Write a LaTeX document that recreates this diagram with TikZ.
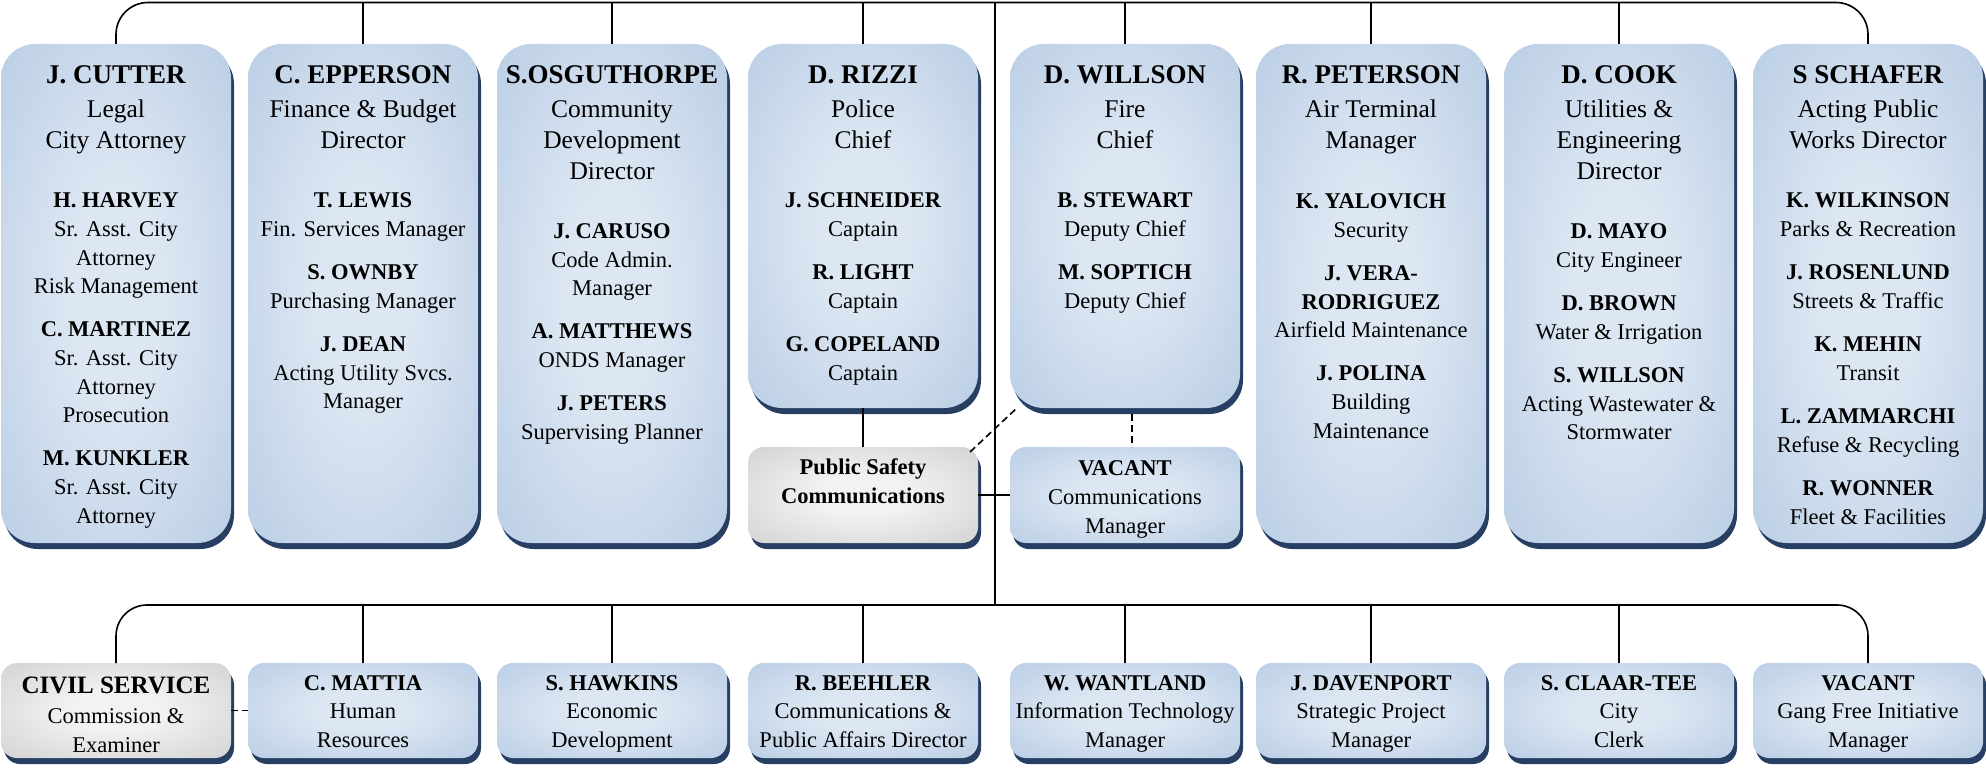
\documentclass[tikz,border=0pt]{standalone}
\usepackage{fontspec}
\setmainfont{Liberation Serif}
\usetikzlibrary{shadows,calc}
\definecolor{boxin}{HTML}{DDE7F3}
\definecolor{boxout}{HTML}{B8CCE4}
\definecolor{grayin}{HTML}{F2F2F2}
\definecolor{grayout}{HTML}{D0D0D0}
\definecolor{shadowc}{HTML}{263F62}
\pgfdeclareradialshading{blueshade}{\pgfpoint{0bp}{0bp}}{color(0bp)=(boxin); color(10bp)=(boxin); color(38bp)=(boxout); color(50bp)=(boxout)}
\pgfdeclareradialshading{grayshade}{\pgfpoint{0bp}{0bp}}{color(0bp)=(grayin); color(10bp)=(grayin); color(38bp)=(grayout); color(50bp)=(grayout)}
\newcommand\bxname[1]{{\fontsize{27}{28.5}\selectfont\bfseries #1}}
\newcommand\bxtitle[1]{{\fontsize{25.5}{28.5}\selectfont #1}}
\newcommand\bxsub[1]{{\bfseries #1}}
\tikzset{
  box/.style={rectangle, rounded corners=34pt, minimum width=230pt, inner sep=0pt, outer sep=0pt,
    shading=blueshade, general shadow={shadow xshift=3pt, shadow yshift=-6pt, fill=shadowc}},
  smallbox/.style={box, rounded corners=16pt, minimum height=95pt},
  graybox/.style={smallbox, shading=grayshade},
  txt/.style={anchor=base, align=center, inner sep=0pt, font=\fontsize{22.5}{28.5}\selectfont},
  conn/.style={line width=1.6pt, black},
  dashconn/.style={conn, dash pattern=on 7pt off 4pt}
}
\begin{document}
\begin{tikzpicture}[x=1pt,y=-1pt]
\useasboundingbox (0,0) rectangle (1986,768);
% top row boxes
\node[box, minimum height=499pt] (b1) at (116,293.5) {};
\node[box, minimum height=499pt] (b2) at (363,293.5) {};
\node[box, minimum height=499pt] (b3) at (612,293.5) {};
\node[box, minimum height=364pt] (b4) at (863,226) {};
\node[box, minimum height=364pt] (b5) at (1125,226) {};
\node[box, minimum height=499pt] (b6) at (1371,293.5) {};
\node[box, minimum height=499pt] (b7) at (1619,293.5) {};
\node[box, minimum height=499pt] (b8) at (1868,293.5) {};
% middle boxes
\node[graybox, minimum height=96pt] (ps) at (863,495) {};
\node[smallbox, minimum height=96pt] (vc) at (1125,495) {};
% bottom row
\node[graybox] (c1) at (116,710.5) {};
\node[smallbox] (c2) at (363,710.5) {};
\node[smallbox] (c3) at (612,710.5) {};
\node[smallbox] (c4) at (863,710.5) {};
\node[smallbox] (c5) at (1125,710.5) {};
\node[smallbox] (c6) at (1371,710.5) {};
\node[smallbox] (c7) at (1619,710.5) {};
\node[smallbox] (c8) at (1868,710.5) {};
% connectors
\coordinate (topc) at (995,2.5);
\coordinate (botc) at (995,605);
\draw[conn, rounded corners=32pt] (b1.north) |- (topc) -| (b8.north);
\foreach \i in {2,...,7} \draw[conn] (b\i.north) -- (b\i.north |- topc);
\draw[conn] (topc) -- (botc);
\draw[conn, rounded corners=31pt] (c1.north) |- (botc) -| (c8.north);
\foreach \i in {2,...,7} \draw[conn] (c\i.north) -- (c\i.north |- botc);
\draw[conn] (b4.south) -- (ps.north);
\draw[conn] (ps.east) -- (vc.west);
\draw[dashconn] ($(ps.north east)+(-8,5)$) -- ($(b5.south west)+(8,-1)$);
\draw[dashconn] ($(b5.south)+(7,6)$) -- ($(vc.north)+(7,0)$);
\draw[dashconn] (c1.east) -- (c2.west);
% texts top row (anchored at the baseline of the last line)
\node[txt] (t1) at (116,523) {\bxname{J. CUTTER}\\[5.5pt]\bxtitle{Legal}\\[2.5pt]\bxtitle{City Attorney}\\[30.5pt]\bxsub{H. HARVEY}\\[0.5pt]Sr. Asst. City\\Attorney\\Risk Management\\[14.5pt]\bxsub{C. MARTINEZ}\\[0.5pt]Sr. Asst. City\\Attorney\\Prosecution\\[14.5pt]\bxsub{M. KUNKLER}\\[0.5pt]Sr. Asst. City\\Attorney};
\node[txt] (t2) at (363,408.5) {\bxname{C. EPPERSON}\\[5.5pt]\bxtitle{Finance \& Budget}\\[2.5pt]\bxtitle{Director}\\[30.5pt]\bxsub{T. LEWIS}\\[0.5pt]Fin. Services Manager\\[14.5pt]\bxsub{S. OWNBY}\\[0.5pt]Purchasing Manager\\[14.5pt]\bxsub{J. DEAN}\\[0.5pt]Acting Utility Svcs.\\Manager};
\node[txt] (t3) at (612,439.5) {\bxname{S.OSGUTHORPE}\\[5.5pt]\bxtitle{Community}\\[2.5pt]\bxtitle{Development}\\[2.5pt]\bxtitle{Director}\\[30.5pt]\bxsub{J. CARUSO}\\[0.5pt]Code Admin.\\Manager\\[14.5pt]\bxsub{A. MATTHEWS}\\[0.5pt]ONDS Manager\\[14.5pt]\bxsub{J. PETERS}\\[0.5pt]Supervising Planner};
\node[txt] (t4) at (863,380) {\bxname{D. RIZZI}\\[5.5pt]\bxtitle{Police}\\[2.5pt]\bxtitle{Chief}\\[30.5pt]\bxsub{J. SCHNEIDER}\\[0.5pt]Captain\\[14.5pt]\bxsub{R. LIGHT}\\[0.5pt]Captain\\[14.5pt]\bxsub{G. COPELAND}\\[0.5pt]Captain};
\node[txt] (t5) at (1125,308) {\bxname{D. WILLSON}\\[5.5pt]\bxtitle{Fire}\\[2.5pt]\bxtitle{Chief}\\[30.5pt]\bxsub{B. STEWART}\\[0.5pt]Deputy Chief\\[14.5pt]\bxsub{M. SOPTICH}\\[0.5pt]Deputy Chief};
\node[txt] (t6) at (1371,438) {\bxname{R. PETERSON}\\[5.5pt]\bxtitle{Air Terminal}\\[2.5pt]\bxtitle{Manager}\\[31.5pt]\bxsub{K. YALOVICH}\\[0.5pt]Security\\[14.5pt]\bxsub{J. VERA-}\\\bxsub{RODRIGUEZ}\\Airfield Maintenance\\[14.5pt]\bxsub{J. POLINA}\\[0.5pt]Building\\Maintenance};
\node[txt] (t7) at (1619,439.5) {\bxname{D. COOK}\\[5.5pt]\bxtitle{Utilities \&}\\[2.5pt]\bxtitle{Engineering}\\[2.5pt]\bxtitle{Director}\\[30.5pt]\bxsub{D. MAYO}\\[0.5pt]City Engineer\\[14.5pt]\bxsub{D. BROWN}\\[0.5pt]Water \& Irrigation\\[14.5pt]\bxsub{S. WILLSON}\\[0.5pt]Acting Wastewater \&\\Stormwater};
\node[txt] (t8) at (1868,524) {\bxname{S SCHAFER}\\[5.5pt]\bxtitle{Acting Public}\\[2.5pt]\bxtitle{Works Director}\\[30.5pt]\bxsub{K. WILKINSON}\\[0.5pt]Parks \& Recreation\\[14.5pt]\bxsub{J. ROSENLUND}\\[0.5pt]Streets \& Traffic\\[14.5pt]\bxsub{K. MEHIN}\\[0.5pt]Transit\\[14.5pt]\bxsub{L. ZAMMARCHI}\\[0.5pt]Refuse \& Recycling\\[14.5pt]\bxsub{R. WONNER}\\[0.5pt]Fleet \& Facilities};
% middle texts
\node[txt] (tps) at (863,503) {\bxsub{Public Safety}\\\bxsub{Communications}};
\node[txt] (tvc) at (1125,533) {\bxsub{VACANT}\\[0.5pt]Communications\\Manager};
% bottom texts
\node[txt] (u1) at (116,752) {{\fontsize{25}{28.5}\selectfont\bfseries CIVIL SERVICE}\\[1.5pt]Commission \&\\Examiner};
\node[txt] (u2) at (363,747) {\bxsub{C. MATTIA}\\Human\\Resources};
\node[txt] (u3) at (612,747) {\bxsub{S. HAWKINS}\\Economic\\Development};
\node[txt] (u4) at (863,747) {\bxsub{R. BEEHLER}\\Communications \&\\Public Affairs Director};
\node[txt] (u5) at (1125,747) {\bxsub{W. WANTLAND}\\Information Technology\\Manager};
\node[txt] (u6) at (1371,747) {\bxsub{J. DAVENPORT}\\Strategic Project\\Manager};
\node[txt] (u7) at (1619,747) {\bxsub{S. CLAAR-TEE}\\City\\Clerk};
\node[txt] (u8) at (1868,747) {\bxsub{VACANT}\\Gang Free Initiative\\Manager};
\end{tikzpicture}
\end{document}
